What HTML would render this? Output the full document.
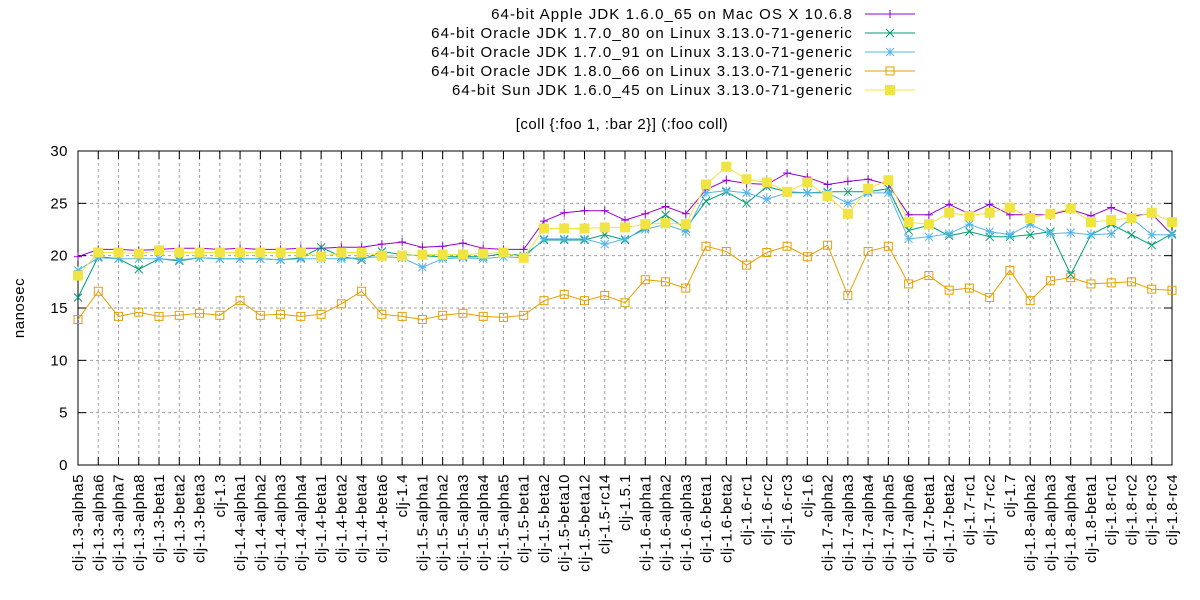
<!DOCTYPE html>
<html><head><meta charset="utf-8"><style>
body{margin:0;background:#fff;}
svg{display:block;font-family:"Liberation Sans",Arial,sans-serif;font-size:15px;letter-spacing:0.5px;}
.lg{letter-spacing:1.1px;}
</style></head><body>
<svg id="s" width="1200" height="600" xmlns="http://www.w3.org/2000/svg"></svg>
<script>
const L=78,R=1172,T=151,B=465;
const labels=["clj-1.3-alpha5","clj-1.3-alpha6","clj-1.3-alpha7","clj-1.3-alpha8","clj-1.3-beta1","clj-1.3-beta2","clj-1.3-beta3","clj-1.3","clj-1.4-alpha1","clj-1.4-alpha2","clj-1.4-alpha3","clj-1.4-alpha4","clj-1.4-beta1","clj-1.4-beta2","clj-1.4-beta4","clj-1.4-beta6","clj-1.4","clj-1.5-alpha1","clj-1.5-alpha2","clj-1.5-alpha3","clj-1.5-alpha4","clj-1.5-alpha5","clj-1.5-beta1","clj-1.5-beta2","clj-1.5-beta10","clj-1.5-beta12","clj-1.5-rc14","clj-1.5.1","clj-1.6-alpha1","clj-1.6-alpha2","clj-1.6-alpha3","clj-1.6-beta1","clj-1.6-beta2","clj-1.6-rc1","clj-1.6-rc2","clj-1.6-rc3","clj-1.6","clj-1.7-alpha2","clj-1.7-alpha3","clj-1.7-alpha4","clj-1.7-alpha5","clj-1.7-alpha6","clj-1.7-beta1","clj-1.7-beta2","clj-1.7-rc1","clj-1.7-rc2","clj-1.7","clj-1.8-alpha2","clj-1.8-alpha3","clj-1.8-alpha4","clj-1.8-beta1","clj-1.8-rc1","clj-1.8-rc2","clj-1.8-rc3","clj-1.8-rc4"];
const n=labels.length, dx=(R-L)/(n-1);
const X=i=>L+i*dx, Y=v=>B-v*(B-T)/30;
const series=[
{name:"64-bit Apple JDK 1.6.0_65 on Mac OS X 10.6.8",c:"#9400d3",m:"plus",d:[19.9,20.6,20.6,20.5,20.6,20.7,20.7,20.6,20.7,20.6,20.6,20.7,20.7,20.8,20.8,21.1,21.3,20.8,20.9,21.2,20.7,20.6,20.6,23.3,24.1,24.3,24.3,23.4,24.0,24.7,24.0,26.3,27.2,26.9,26.8,27.9,27.5,26.8,27.1,27.3,26.8,23.9,23.9,24.9,24.0,24.9,23.9,23.9,23.9,24.4,23.8,24.6,23.8,24.0,22.0]},
{name:"64-bit Oracle JDK 1.7.0_80 on Linux 3.13.0-71-generic",c:"#009e73",m:"x",d:[16.0,19.9,19.7,18.7,19.7,19.5,19.8,19.7,19.7,19.7,19.6,19.8,20.8,19.9,19.6,20.4,20.1,20.0,19.9,19.9,19.9,20.2,20.0,21.5,21.5,21.5,22.0,21.5,22.7,23.9,22.6,25.2,26.1,25.0,26.6,26.1,26.0,26.1,26.1,26.1,26.4,22.4,22.9,21.9,22.3,21.8,21.8,22.0,22.3,18.2,22.0,23.0,22.0,21.0,22.1]},
{name:"64-bit Oracle JDK 1.7.0_91 on Linux 3.13.0-71-generic",c:"#56b4e9",m:"star",d:[18.6,19.8,19.7,19.7,19.7,19.6,19.8,19.7,19.7,19.7,19.6,19.7,19.7,19.7,19.8,19.9,19.8,18.9,19.7,19.8,19.7,19.9,19.8,21.6,21.6,21.6,21.1,21.6,22.5,23.0,22.3,26.0,26.2,26.0,25.4,26.0,26.0,26.0,25.0,26.0,26.0,21.6,21.8,22.1,23.0,22.3,22.0,23.0,22.1,22.2,22.0,22.1,23.6,22.0,22.0]},
{name:"64-bit Oracle JDK 1.8.0_66 on Linux 3.13.0-71-generic",c:"#e69f00",m:"box",d:[13.9,16.6,14.2,14.6,14.2,14.3,14.5,14.3,15.7,14.3,14.4,14.2,14.4,15.4,16.6,14.4,14.2,13.9,14.3,14.5,14.2,14.1,14.3,15.7,16.3,15.7,16.2,15.5,17.7,17.5,16.9,20.9,20.4,19.1,20.3,20.9,19.9,21.0,16.2,20.4,20.9,17.3,18.1,16.7,16.9,16.0,18.6,15.7,17.6,17.9,17.3,17.4,17.5,16.8,16.7]},
{name:"64-bit Sun JDK 1.6.0_45 on Linux 3.13.0-71-generic",c:"#f0e442",m:"fbox",d:[18.1,20.3,20.3,20.2,20.5,20.3,20.3,20.3,20.3,20.3,20.3,20.3,19.9,20.3,20.3,20.0,20.0,20.1,20.1,20.1,20.2,20.3,19.8,22.6,22.6,22.6,22.7,22.7,23.0,23.1,23.0,26.8,28.5,27.3,27.0,26.1,27.0,25.7,24.0,26.4,27.2,23.2,23.0,24.1,23.8,24.1,24.6,23.6,24.0,24.5,23.2,23.4,23.6,24.1,23.2]}
];
let s='';
function mark(m,x,y,c){
 if(m=="plus")return `<path d="M${x-4},${y}h8M${x},${y-4}v8" stroke="${c}" stroke-width="1"/>`;
 if(m=="x")return `<path d="M${x-4},${y-4}l8,8M${x-4},${y+4}l8,-8" stroke="${c}" stroke-width="1"/>`;
 if(m=="star")return `<path d="M${x-4},${y}h8M${x},${y-4}v8M${x-4},${y-4}l8,8M${x-4},${y+4}l8,-8" stroke="${c}" stroke-width="1"/>`;
 if(m=="box")return `<rect x="${x-4}" y="${y-4}" width="8" height="8" fill="none" stroke="${c}" stroke-width="1"/>`;
 return `<rect x="${x-5}" y="${y-5}" width="10" height="10" fill="${c}"/>`;
}
for(let v=5;v<30;v+=5)s+=`<line x1="${L}" x2="${R}" y1="${Y(v)}" y2="${Y(v)}" stroke="#a0a0a0" stroke-dasharray="3,3"/>`;
for(let i=1;i<n-1;i++)s+=`<line x1="${X(i)}" x2="${X(i)}" y1="${T}" y2="${B}" stroke="#a0a0a0" stroke-dasharray="3,3"/>`;
for(let v=0;v<=30;v+=5){s+=`<line x1="${L}" x2="${L+8}" y1="${Y(v)}" y2="${Y(v)}" stroke="#000"/><line x1="${R}" x2="${R-8}" y1="${Y(v)}" y2="${Y(v)}" stroke="#000"/>`;
 s+=`<text x="${L-10}" y="${Y(v)+5}" text-anchor="end">${v}</text>`;}
for(let i=0;i<n;i++){s+=`<line x1="${X(i)}" x2="${X(i)}" y1="${B}" y2="${B-8}" stroke="#000"/><line x1="${X(i)}" x2="${X(i)}" y1="${T}" y2="${T+8}" stroke="#000"/>`;
 s+=`<text transform="translate(${X(i)+5},${B+9}) rotate(-90)" text-anchor="end">${labels[i]}</text>`;}
s+=`<rect x="${L}" y="${T}" width="${R-L}" height="${B-T}" fill="none" stroke="#000"/>`;
s+=`<text transform="translate(24,${(T+B)/2}) rotate(-90)" text-anchor="middle">nanosec</text>`;
s+=`<text x="622" y="129" text-anchor="middle">[coll {:foo 1, :bar 2}] (:foo coll)</text>`;
series.forEach((se,k)=>{
 let p=se.d.map((v,i)=>`${X(i).toFixed(1)},${Y(v).toFixed(1)}`).join(' ');
 s+=`<polyline points="${p}" fill="none" stroke="${se.c}" stroke-width="1"/>`;
 se.d.forEach((v,i)=>s+=mark(se.m,X(i),Y(v),se.c));
 const ly=14+k*19;
 s+=`<text class="lg" x="853" y="${ly+5}" text-anchor="end">${se.name}</text>`;
 s+=`<line x1="865" x2="915" y1="${ly}" y2="${ly}" stroke="${se.c}"/>`+mark(se.m,890,ly,se.c);
});
document.getElementById('s').innerHTML=s;
</script>
</body></html>
